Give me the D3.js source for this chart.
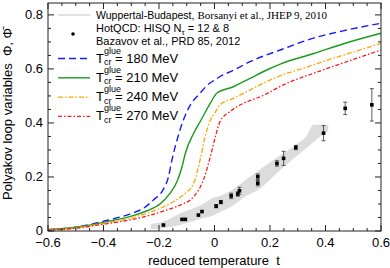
<!DOCTYPE html>
<html><head><meta charset="utf-8">
<script src="https://cdn.jsdelivr.net/npm/d3@7"></script>
<style>body{margin:0;background:#fff}svg{display:block}text{font-family:"Liberation Sans",Arial,sans-serif}</style>
</head><body><svg id="c" width="390" height="268"></svg>
<script>
// Curves (reduced temperature t -> Phi)
const tBlue  = [-0.6,-0.5,-0.4,-0.3,-0.256,-0.22,-0.184,-0.166,-0.154,-0.135,-0.112,-0.088,-0.052,-0.02,0,0.02,0.068,0.128,0.237,0.357,0.477,0.6];
const vBlue  = [0.005,0.014,0.036,0.065,0.084,0.115,0.155,0.2,0.26,0.337,0.411,0.465,0.51,0.545,0.558,0.572,0.595,0.627,0.67,0.714,0.744,0.769];
const tGreen = [-0.6,-0.5,-0.4,-0.3,-0.243,-0.193,-0.16,-0.135,-0.117,-0.105,-0.075,-0.05,-0.015,0.008,0.068,0.128,0.188,0.237,0.357,0.477,0.6];
const vGreen = [0.005,0.014,0.032,0.055,0.075,0.103,0.14,0.183,0.238,0.288,0.362,0.408,0.473,0.51,0.534,0.565,0.596,0.618,0.657,0.697,0.732];
const tOrange= [-0.6,-0.5,-0.4,-0.3,-0.243,-0.196,-0.147,-0.105,-0.075,-0.052,-0.034,-0.015,0,0.02,0.068,0.128,0.188,0.261,0.3,0.42,0.54,0.6];
const vOrange= [0.004,0.012,0.028,0.048,0.066,0.084,0.109,0.14,0.176,0.263,0.349,0.41,0.435,0.467,0.491,0.522,0.553,0.584,0.596,0.637,0.675,0.695];
const tRed   = [-0.6,-0.5,-0.4,-0.3,-0.23,-0.171,-0.124,-0.075,-0.04,-0.015,0.003,0.02,0.057,0.105,0.165,0.261,0.36,0.48,0.6];
const vRed   = [0.003,0.01,0.025,0.042,0.059,0.078,0.096,0.127,0.189,0.275,0.349,0.405,0.443,0.473,0.497,0.547,0.585,0.628,0.67];
// Wuppertal-Budapest band
const tBand  = [-0.23,-0.184,-0.124,-0.05,0,0.02,0.06,0.12,0.156,0.237,0.308,0.33,0.357,0.41];
const bandHi = [0.026,0.035,0.065,0.095,0.125,0.13,0.15,0.195,0.222,0.28,0.33,0.35,0.393,0.393];
const bandLo = [0.006,0.01,0.022,0.045,0.059,0.07,0.09,0.133,0.152,0.226,0.288,0.305,0.33,0.37];
// HotQCD points
const hqT   = [-0.184,-0.117,-0.105,-0.058,-0.045,0.006,0.023,0.06,0.084,0.09,0.156,0.156,0.225,0.249,0.293,0.393,0.471,0.567];
const hqV   = [0.022,0.043,0.043,0.059,0.072,0.092,0.107,0.13,0.137,0.149,0.177,0.201,0.25,0.269,0.309,0.362,0.454,0.467];
const hqErr = [0.003,0.004,0.004,0.004,0.005,0.006,0.006,0.01,0.008,0.013,0.01,0.01,0.01,0.026,0.008,0.028,0.023,0.06];
const xTicks = [-0.6,-0.4,-0.2,0,0.2,0.4,0.6];
const yTicks = [0,0.2,0.4,0.6,0.8];
const legendTemps = ["180","210","240","270"];

const svg = d3.select("#c");
const x = d3.scaleLinear().domain([-0.6,0.6]).range([48,381]);
const y = d3.scaleLinear().domain([0,0.844]).range([231,3]);

// band
const band = tBand.map((t,i)=>({t,hi:bandHi[i],lo:bandLo[i]}));
svg.append("path").datum(band)
  .attr("d", d3.area().x(d=>x(d.t)).y0(d=>y(d.lo)).y1(d=>y(d.hi)).curve(d3.curveMonotoneX))
  .attr("fill","#dcdcdc");

const series = [
  {t:tBlue, v:vBlue, color:"#1a1aff", dash:"7,4", w:1.4},
  {t:tGreen,v:vGreen,color:"#1c9a1c", dash:null, w:1.4},
  {t:tOrange,v:vOrange,color:"#ffa500", dash:"5,2,1.5,2", w:1.3},
  {t:tRed,  v:vRed,  color:"#ff1a1a", dash:"4,2,1.5,2", w:1.3}
];
const line = d3.line().x(d=>x(d[0])).y(d=>y(d[1])).curve(d3.curveMonotoneX);
series.forEach(s=>{
  svg.append("path").datum(s.t.map((t,i)=>[t,s.v[i]]))
    .attr("d",line).attr("fill","none").attr("stroke",s.color)
    .attr("stroke-width",s.w).attr("stroke-dasharray",s.dash);
});

// points
const pts = hqT.map((t,i)=>({t,v:hqV[i],e:hqErr[i]}));
const pg = svg.append("g");
pts.forEach(p=>{
  if (p.e>0.005){
    pg.append("line").attr("x1",x(p.t)).attr("x2",x(p.t)).attr("y1",y(p.v-p.e)).attr("y2",y(p.v+p.e)).attr("stroke","#333").attr("stroke-width",0.8);
    [p.v-p.e,p.v+p.e].forEach(vv=>pg.append("line").attr("x1",x(p.t)-2).attr("x2",x(p.t)+2).attr("y1",y(vv)).attr("y2",y(vv)).attr("stroke","#333").attr("stroke-width",0.8));
  }
  pg.append("rect").attr("x",x(p.t)-1.8).attr("y",y(p.v)-1.8).attr("width",3.6).attr("height",3.6).attr("fill","#000");
});

// frame and ticks
svg.append("rect").attr("x",48).attr("y",3).attr("width",333).attr("height",228).attr("fill","none").attr("stroke","#222").attr("stroke-width",1);
const tg = svg.append("g").attr("stroke","#222").attr("stroke-width",1);
d3.range(-0.6,0.6001,0.05).forEach(t=>{
  const major = Math.abs(Math.round(t*5)-t*5)<1e-6;
  const L = major?6:3;
  tg.append("line").attr("x1",x(t)).attr("x2",x(t)).attr("y1",231).attr("y2",231-L);
  tg.append("line").attr("x1",x(t)).attr("x2",x(t)).attr("y1",3).attr("y2",3+L);
});
d3.range(0,0.8441,0.05).forEach(v=>{
  const major = Math.abs(Math.round(v*5)-v*5)<1e-6;
  const L = major?6:3;
  tg.append("line").attr("x1",48).attr("x2",48+L).attr("y1",y(v)).attr("y2",y(v));
  tg.append("line").attr("x1",381).attr("x2",381-L).attr("y1",y(v)).attr("y2",y(v));
});
xTicks.forEach(t=>svg.append("text").attr("x",x(t)).attr("y",246.5).attr("text-anchor","middle").attr("font-size",13).text(t===0?"0":d3.format(".1f")(t)));
yTicks.forEach(v=>svg.append("text").attr("x",43).attr("y",y(v)+(v===0?3.5:4.5)).attr("text-anchor","end").attr("font-size",13).text(v===0?"0":d3.format(".1f")(v)));

// axis titles
svg.append("text").attr("x",214).attr("y",265).attr("text-anchor","middle").attr("font-size",13).attr("xml:space","preserve").text("reduced temperature  t");
svg.append("text").attr("transform","translate(12,114) rotate(-90)").attr("text-anchor","middle").attr("font-size",13).attr("xml:space","preserve").text("Polyakov loop variables  \u03A6, \u03A6\u0304");

// legend
const lg = svg.append("g");
lg.append("line").attr("x1",58).attr("x2",90).attr("y1",15).attr("y2",15).attr("stroke","#e2e2e2").attr("stroke-width",2);
const t1 = lg.append("text").attr("x",96).attr("y",18.5).attr("font-size",10.5);
t1.append("tspan").text("Wuppertal-Budapest, ");
t1.append("tspan").attr("font-family","Liberation Serif, Times New Roman, serif").attr("font-size",11).text("Borsanyi et al., JHEP 9, 2010");
lg.append("circle").attr("cx",73).attr("cy",34).attr("r",1.8).attr("fill","#000");
const t2 = lg.append("text").attr("x",96).attr("y",32).attr("font-size",11);
t2.append("tspan").text("HotQCD: HISQ N");
t2.append("tspan").attr("font-size",8).attr("dy",2.5).text("\u03C4");
t2.append("tspan").attr("dy",-2.5).text(" = 12 & 8");
lg.append("text").attr("x",96).attr("y",44.5).attr("font-size",11).attr("font-family","Liberation Serif, Times New Roman, serif").text("Bazavov et al., PRD 85, 2012");
legendTemps.forEach((T,i)=>{
  const cy = 58.5 + i*19.3;
  const s = series[i];
  lg.append("line").attr("x1",58).attr("x2",90).attr("y1",cy).attr("y2",cy).attr("stroke",s.color).attr("stroke-width",s.w).attr("stroke-dasharray",s.dash);
  lg.append("text").attr("x",96).attr("y",cy+4).attr("font-size",13).text("T");
  lg.append("text").attr("x",104).attr("y",cy+6.5).attr("font-size",9).text("cr");
  lg.append("text").attr("x",104).attr("y",cy-5).attr("font-size",9).text("glue");
  lg.append("text").attr("x",115).attr("y",cy+4).attr("font-size",13).text("= " + T + " MeV");
});
</script></body></html>
